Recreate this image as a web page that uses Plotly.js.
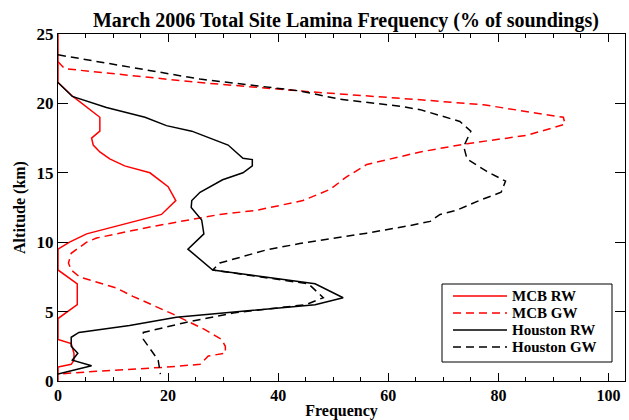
<!DOCTYPE html>
<html><head><meta charset="utf-8">
<script src="https://cdn.plot.ly/plotly-3.0.1.min.js"></script>
<style>html,body{margin:0;padding:0;background:#fff}#chart{width:629px;height:420px}</style>
</head><body><div id="chart"></div>
<script>
// MCB RW (red solid)
const mcbRwFreq = [0,0,2.7,7.6,7.6,6.1,6.4,7.6,9.4,12.1,16.7,20.0,21.4,18.8,5.2,2.1,0,0,3.5,3.5,0,0,2.4,2.9,2.9,2.4,0,0];
const mcbRwAlt  = [25,21.5,20.5,19.0,18.0,17.5,17.0,16.5,16.0,15.5,15.0,14.0,13.0,12.0,10.6,10.0,9.5,8.0,7.0,5.5,4.5,3.0,2.7,2.0,1.5,1.2,1.0,0];
// MCB GW (red dashed)
const mcbGwFreq = [0,1.2,25.8,47.0,64.5,77.3,91.8,92.1,85.2,74.3,65.8,56.1,52.4,49.4,44.5,36.1,29.4,20.0,16.7,7.0,5.2,2.4,1.9,2.4,3.9,10.6,13.6,21.0,26.7,29.7,30.4,30.4,27.3,25.8,19.7,7.0,0];
const mcbGwAlt  = [23.0,22.5,21.5,20.8,20.3,19.9,19.0,18.5,17.7,17.1,16.5,15.6,14.7,13.8,13.0,12.3,12.0,11.3,11.1,10.3,10.0,9.2,8.5,8.0,7.5,6.7,6.1,4.8,3.7,3.0,2.5,2.0,1.8,1.2,1.0,0.7,0.5];
// Houston RW (black solid)
const houRwFreq = [0,2.6,8.8,15.8,19.7,24.3,30.9,33.6,35.3,35.3,33.6,29.9,25.8,24.3,24.2,26.1,26.5,23.6,28.1,46.7,51.8,46.7,21.5,13.0,3.8,2.4,2.4,3.6,2.6,6.1,0];
const houRwAlt  = [21.5,20.5,19.7,19.0,18.4,18.0,17.0,16.05,15.95,15.5,15.0,14.5,13.6,13.0,12.5,11.6,10.6,9.5,8.0,7.0,6.0,5.5,4.6,4.0,3.5,3.15,2.5,2.0,1.5,1.1,0.5];
// Houston GW (black dashed)
const houGwFreq = [0,25.8,43.9,51.2,62.1,65.8,73.0,75.0,73.7,74.3,77.9,81.3,80.5,76.5,72.4,69.4,67.6,64.0,56.1,51.8,43.9,37.9,29.4,28.1,45.5,48.2,45.0,31.8,23.0,15.5,15.5,18.2,18.6];
const houGwAlt  = [23.5,21.75,20.9,20.3,19.8,19.55,18.7,18.0,16.9,16.0,15.1,14.4,13.6,13.0,12.3,12.0,11.5,11.2,10.65,10.4,9.9,9.45,8.5,8.0,7.0,6.0,5.5,4.9,4.2,3.5,3.0,1.5,0.5];

const seriesNames = ['MCB RW','MCB GW','Houston RW','Houston GW'];
const seriesColors = ['#ff0000','#ff0000','#000000','#000000'];
const xTickVals = [0,20,40,60,80,100];
const yTickVals = [0,5,10,15,20,25];

const serif = 'Liberation Serif, Times New Roman, serif';
const dashed = '8px,5px';
const dashes = ['solid', dashed, 'solid', dashed];
const seriesX = [mcbRwFreq, mcbGwFreq, houRwFreq, houGwFreq];
const seriesY = [mcbRwAlt, mcbGwAlt, houRwAlt, houGwAlt];

const traces = seriesNames.map((n,i)=>({
  x: seriesX[i], y: seriesY[i], name: n, mode:'lines',
  line:{color:seriesColors[i], width:1.5, dash:dashes[i]}
}));

// plot area in pixels
const L=58, R=4, T=34, B=39, W=629, H=420;
const pw=W-L-R, ph=H-T-B;
const px2p = px => (px-L)/pw;
const py2p = py => (H-B-py)/ph;

// legend box drawn in paper coordinates
const shapes = [{type:'rect', xref:'paper', yref:'paper', x0:px2p(442), x1:px2p(612), y0:py2p(362), y1:py2p(284),
  line:{color:'#000', width:1}, fillcolor:'#fff', layer:'above'}];
const annotations = [];
const rowY = [296, 313, 330, 347];
seriesNames.forEach((n,i)=>{
  shapes.push({type:'line', xref:'paper', yref:'paper', x0:px2p(453), x1:px2p(507), y0:py2p(rowY[i]), y1:py2p(rowY[i]),
    line:{color:seriesColors[i], width:1.5, dash:dashes[i]}, layer:'above'});
  annotations.push({xref:'paper', yref:'paper', x:px2p(511), y:py2p(rowY[i]), xanchor:'left', yanchor:'middle',
    text:'<b>'+n+'</b>', showarrow:false, borderpad:0, font:{family:serif, size:15, color:'#000'}});
});

const layout = {
  width:W, height:H,
  margin:{l:L, r:R, t:T, b:B, pad:0},
  paper_bgcolor:'#fff', plot_bgcolor:'#fff',
  font:{family:serif, size:16, color:'#000'},
  title:{text:'<b>March 2006 Total Site Lamina Frequency (% of soundings)</b>', font:{family:serif, size:20, color:'#000'}, x:0.55, xref:'container', xanchor:'center', y:0.952, yanchor:'middle'},
  xaxis:{range:[0,103], tickvals:xTickVals, ticktext:xTickVals.map(v=>'<b>'+v+'</b>'),
    ticks:'inside', ticklen:8, tickcolor:'#000', tickwidth:1,
    minor:{dtick:5, tick0:0, ticks:'inside', ticklen:4, tickcolor:'#000', tickwidth:1, showgrid:false},
    showline:true, linecolor:'#000', linewidth:1, mirror:'ticks', showgrid:false, zeroline:false,
    tickfont:{family:serif, size:16},
    title:{text:'<b>Frequency</b>', font:{family:serif, size:16}, standoff:2}},
  yaxis:{range:[0,25], tickvals:yTickVals, ticktext:yTickVals.map(v=>'<b>'+v+'</b>'),
    ticks:'inside', ticklen:10, tickcolor:'#000', tickwidth:1,
    showline:true, linecolor:'#000', linewidth:1, mirror:'ticks', showgrid:false, zeroline:false,
    tickfont:{family:serif, size:17},
    title:{text:'<b>Altitude (km)</b>', font:{family:serif, size:16}, standoff:6}},
  showlegend:false,
  shapes: shapes,
  annotations: annotations
};
Plotly.newPlot('chart', traces, layout, {displayModeBar:false, staticPlot:true});
</script></body></html>
